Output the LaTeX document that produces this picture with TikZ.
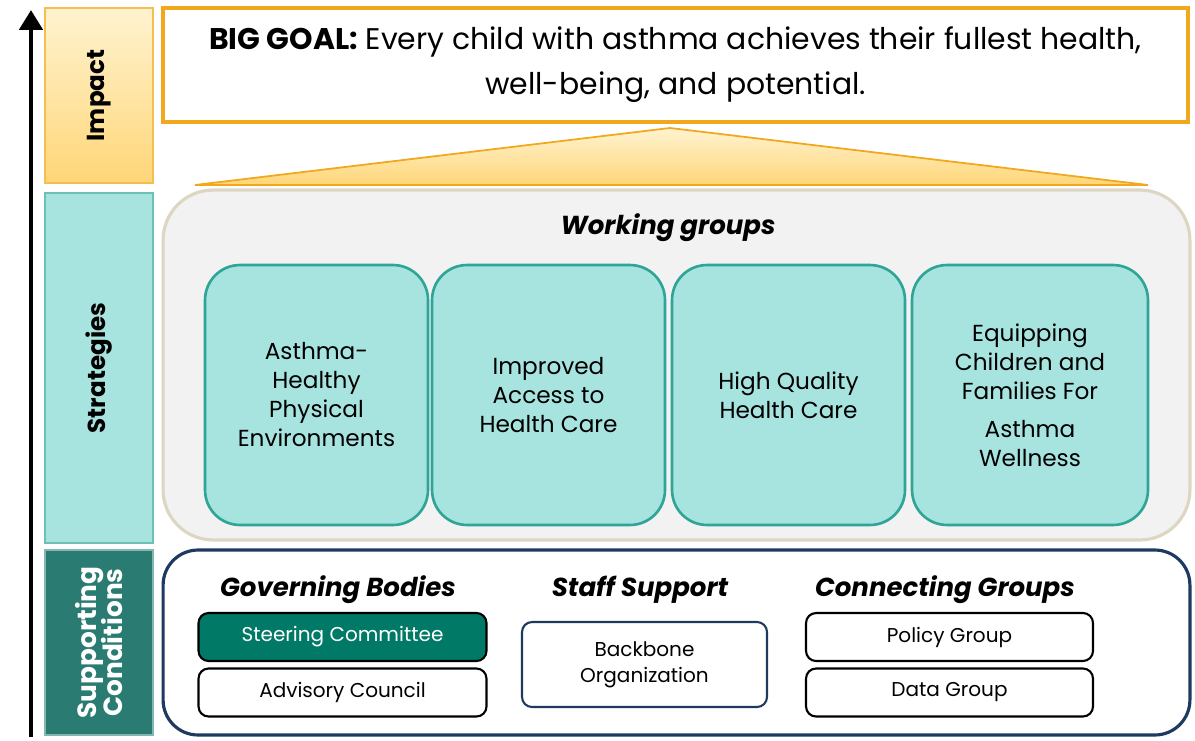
\documentclass[tikz,border=0pt]{standalone}
\usepackage{fontspec}
\setmainfont{Poppins}
\usetikzlibrary{arrows.meta, positioning}
\definecolor{goalorange}{RGB}{242, 168, 29}
\definecolor{impacttop}{RGB}{255, 243, 208}
\definecolor{impactbot}{RGB}{255, 214, 120}
\definecolor{impactline}{RGB}{245, 190, 80}
\definecolor{tealsoft}{RGB}{168, 228, 223}
\definecolor{tealline}{RGB}{46, 165, 151}
\definecolor{tealdark}{RGB}{42, 124, 114}
\definecolor{steerfill}{RGB}{0, 122, 102}
\definecolor{navyline}{RGB}{31, 58, 96}
\definecolor{wgfill}{RGB}{242, 242, 242}
\definecolor{wgline}{RGB}{220, 214, 194}

\tikzset{
    sidebox/.style={draw, line width=1pt, minimum width=2.16cm, inner sep=0pt},
    sidelabel/.style={rotate=90, font=\fontsize{14}{17}\selectfont\bfseries, align=center},
    groupbox/.style={draw=tealline, fill=tealsoft, line width=1.5pt, rounded corners=0.7cm,
        minimum height=5.2cm, align=center, font=\fontsize{13.2}{16.5}\selectfont},
    heading/.style={font=\fontsize{14.8}{17}\selectfont\bfseries\itshape},
    smallbox/.style={draw=black, fill=white, line width=1.2pt, rounded corners=0.2cm,
        minimum width=5.76cm, minimum height=0.96cm, font=\fontsize{11.4}{14}\selectfont}
}

\begin{document}
\begin{tikzpicture}[x=0.02cm, y=-0.02cm]
    \useasboundingbox (0,0) rectangle (1195,740);

    % left column
    \node[sidebox, draw=impactline, top color=impacttop, bottom color=impactbot,
          minimum height=3.5cm] (impact) at (99,95.5) {};
    \node[sidelabel] (impactlbl) at (impact.center) {Impact};
    \node[sidebox, draw=tealline!70, fill=tealsoft, minimum height=7cm] (strat) at (99,368) {};
    \node[sidelabel] (stratlbl) at (strat.center) {Strategies};
    \node[sidebox, draw=tealsoft!80!black, fill=tealdark, minimum height=3.7cm] (supp) at (99,642.5) {};
    \node[sidelabel, text=white, font=\fontsize{15}{17}\selectfont\bfseries] (supplbl) at (supp.center)
        {Supporting\\[-2pt]Conditions};

    \coordinate (arrbot) at (31,737);
    \coordinate (arrtop) at (31,10);
    \draw[line width=2.8pt, -{Triangle[width=0.46cm, length=0.4cm]}] (arrbot) -- (arrtop);

    % impact
    \node[draw=goalorange, fill=white, line width=2pt, minimum width=20.5cm, minimum height=2.28cm,
          align=center, font=\fontsize{17}{25.5}\selectfont] (goal) at (675.5,65)
        {\textbf{BIG GOAL:} Every child with asthma achieves their fullest health,\\
         well-being, and potential.};
    \shade[top color=impacttop, bottom color=impactbot, draw=goalorange, line width=1pt]
        (195,185) -- (670,128) -- (1148,185) -- cycle;

    % strategies
    \node[draw=wgline, fill=wgfill, line width=1.8pt, rounded corners=1cm,
          minimum width=20.54cm, minimum height=7cm] (wg) at (676.5,365) {};
    \node[heading] (wgtitle) at (668,228) {Working groups};
    \node[groupbox, minimum width=4.46cm] (env) at (316.5,395)
        {Asthma-\\Healthy\\Physical\\Environments};
    \node[groupbox, minimum width=4.66cm] (access) at (548.5,395)
        {Improved\\Access to\\Health Care};
    \node[groupbox, minimum width=4.66cm] (quality) at (788.5,395)
        {High Quality\\Health Care};
    \node[groupbox, minimum width=4.72cm] (equip) at (1030,395)
        {Equipping\\Children and\\Families For\\[5pt]Asthma\\Wellness};

    % supporting conditions
    \node[draw=navyline, fill=white, line width=1.8pt, rounded corners=0.7cm,
          minimum width=20.54cm, minimum height=3.7cm] (sc) at (676.5,642.5) {};
    \node[heading] (gov) at (338,590) {Governing Bodies};
    \node[heading] (staff) at (640,590) {Staff Support};
    \node[heading] (conn) at (945,590) {Connecting Groups};

    \node[smallbox, fill=steerfill, text=white] (steer) at (342.5,637) {Steering Committee};
    \node[smallbox] (advis) at (342.5,692.5) {Advisory Council};
    \node[smallbox, draw=navyline, minimum width=4.9cm, minimum height=1.7cm, align=center,
          font=\fontsize{11.4}{15}\selectfont] (backbone) at (644.5,664.5) {Backbone\\Organization};
    \node[smallbox, minimum width=5.74cm] (policy) at (949.5,637) {Policy Group};
    \node[smallbox, minimum width=5.74cm] (data) at (949.5,692.5) {Data Group};
\end{tikzpicture}
\end{document}
